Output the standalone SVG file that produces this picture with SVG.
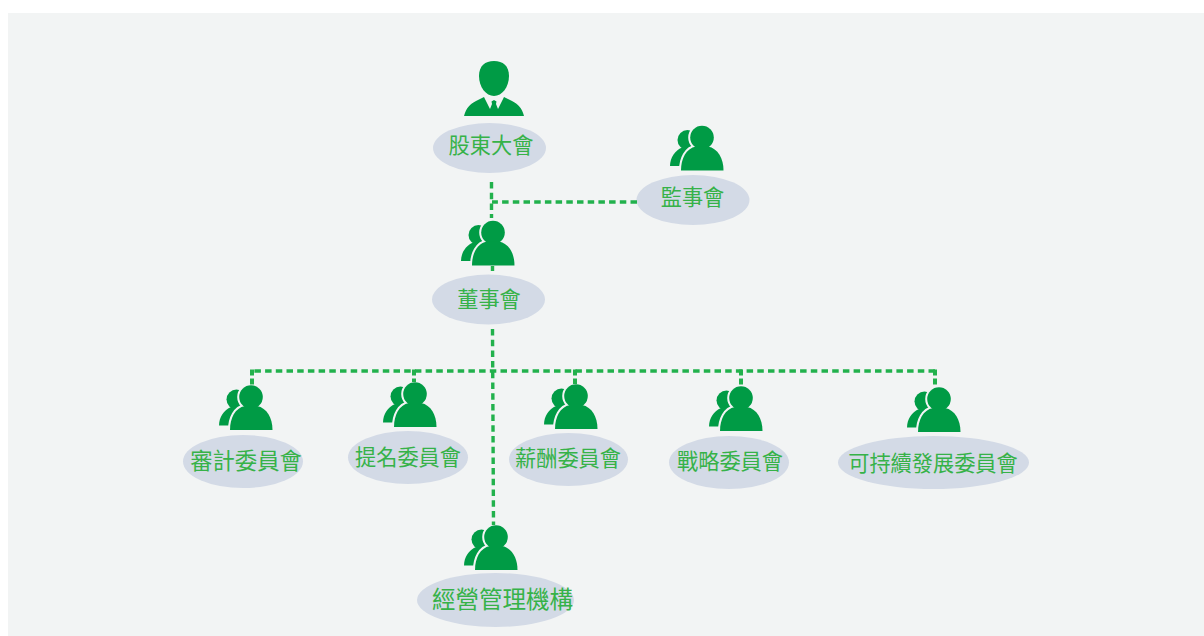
<svg xmlns="http://www.w3.org/2000/svg" width="1204" height="636" viewBox="0 0 1204 636">
<style>
.c{fill:none;stroke:#22b14c;stroke-width:3.400;stroke-dasharray:6.5 4.2}
.s{fill:none;stroke:#22b14c;stroke-width:4;stroke-dasharray:6 3}
.e{fill:#d3dae6}
.t{font-family:"Noto Sans CJK TC","Noto Sans CJK SC",sans-serif;font-size:21.200px;fill:#36b248;text-anchor:middle}
.i{fill:#009b45}
.h{fill:#f2f4f4;stroke:#f2f4f4;stroke-width:4}
</style>
<defs>
<g id="group">
<circle class="i" cx="-14.500" cy="2.500" r="10"/>
<path class="i" d="M-32,28.500 C-32,20 -27,13 -20,10 L-10,10 L-10,28.500 Z"/>
<circle class="h" cx="0" cy="0" r="11.800"/>
<path class="h" d="M-21,33 C-21,21 -16,11 -6,9 L6,9 C16,11 21.500,21 21.500,33 Z"/>
<circle class="i" cx="0" cy="0" r="11.800"/>
<path class="i" d="M-21,33 C-21,21 -16,11 -6,9 L6,9 C16,11 21.500,21 21.500,33 Z"/>
</g>
</defs>
<rect x="0" y="0" width="1204" height="636" fill="#ffffff"/>
<rect x="8" y="13" width="1196" height="623" fill="#f2f4f4"/>
<g id="node-shareholders">
<path class="i" d="M494,61 C503,61 509,66 509,76 C509,87 502,96 494,96 C486,96 479,87 479,76 C479,66 485,61 494,61 Z"/>
<path class="i" d="M464,116 C466,108 470,104 476,101 L484,97 L490,109 L492,104 L491.500,101.500 L494,100 L496.500,101.500 L496,104 L498,109 L504,97 L512,101 C518,104 522,108 524,116 Z"/>
<ellipse class="e" cx="489.500" cy="148" rx="56.500" ry="25"/>
<text class="t" x="491" y="153">股東大會</text>
</g>
<g id="node-supervisors">
<use href="#group" x="702" y="137.500"/>
<ellipse class="e" cx="693" cy="200" rx="56.500" ry="25"/>
<text class="t" x="692.500" y="205">監事會</text>
</g>
<g id="node-board">
<use href="#group" x="493" y="232.500"/>
<ellipse class="e" cx="488.500" cy="299.500" rx="56.500" ry="25"/>
<text class="t" x="489" y="307">董事會</text>
</g>
<g id="node-audit">
<use href="#group" x="251" y="397"/>
<ellipse class="e" cx="243" cy="461.500" rx="60" ry="26.500"/>
<text class="t" style="font-size:22.300px" x="246" y="469">審計委員會</text>
</g>
<g id="node-nomination">
<use href="#group" x="415" y="394"/>
<ellipse class="e" cx="408" cy="457.500" rx="60" ry="26.500"/>
<text class="t" x="408" y="465">提名委員會</text>
</g>
<g id="node-remuneration">
<use href="#group" x="576" y="396"/>
<ellipse class="e" cx="568.500" cy="459.500" rx="59.500" ry="26.500"/>
<text class="t" x="568" y="466">薪酬委員會</text>
</g>
<g id="node-strategy">
<use href="#group" x="741" y="398"/>
<ellipse class="e" cx="729" cy="462.500" rx="60" ry="26.500"/>
<text class="t" x="730" y="469">戰略委員會</text>
</g>
<g id="node-sustainability">
<use href="#group" x="939" y="399"/>
<ellipse class="e" cx="933.500" cy="462.500" rx="95.500" ry="26.500"/>
<text class="t" x="933" y="471">可持續發展委員會</text>
</g>
<g id="node-management">
<use href="#group" x="496" y="537"/>
<ellipse class="e" cx="495.500" cy="600" rx="78.500" ry="27"/>
<text class="t" style="font-size:23.500px" x="502.500" y="608">經營管理機構</text>
</g>
<g id="connectors">
<path class="c" d="M491.500,182V218"/>
<path class="c" d="M637,202H492"/>
<path class="c" d="M492.500,266V271"/>
<path class="c" d="M492.500,329L493.500,525"/>
<path class="c" d="M935,371H252"/>
<path class="s" d="M252,369.500V386"/>
<path class="s" d="M414,369.500V382"/>
<path class="s" d="M575,369.500V384"/>
<path class="s" d="M741,369.500V386"/>
<path class="s" d="M935,369.500V385"/>
</g>
</svg>
